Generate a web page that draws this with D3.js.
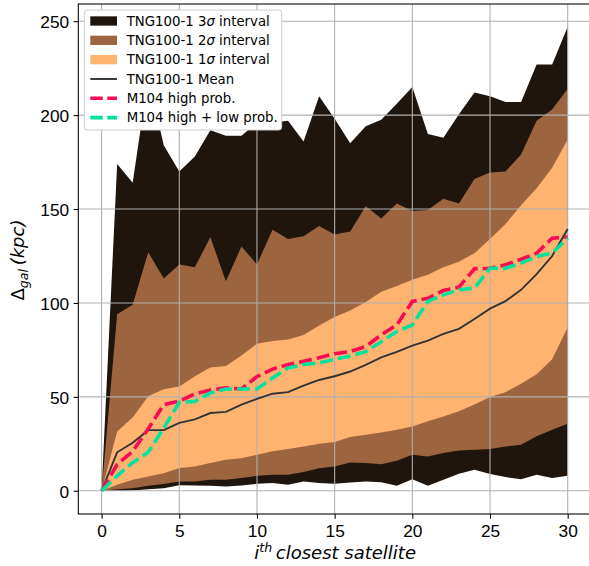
<!DOCTYPE html>
<html>
<head>
<meta charset="utf-8">
<script src="https://cdn.jsdelivr.net/npm/d3@7"></script>
<style>
    body { margin: 0; background: #fff; }
    #chart { width: 589px; height: 566px; overflow: hidden; }
    svg { font-family: "DejaVu Sans", sans-serif; }
    .grid line { stroke: #b0b0b0; stroke-width: 1.07; }
    .axis path { display: none; }
    .axis line { stroke: #000; stroke-width: 1.07; }
    .axis text { font-size: 17.3px; fill: #000; }
</style>
</head>
<body>
<div id="chart"></div>
<script>
// i-th closest satellite
const satellites = [0, 1, 2, 3, 4, 5, 6, 7, 8, 9, 10, 11, 12, 13, 14, 15, 16, 17, 18, 19, 20,
    21, 22, 23, 24, 25, 26, 27, 28, 29, 30];

// TNG100-1 intervals (kpc)
const upper3 = [0, 174, 164, 220, 184, 170, 178, 192, 189, 189, 196, 196, 197, 186, 210, 198, 185, 194,
    197.5, 206, 215, 190, 188, 200.5, 212, 210, 207, 207, 227, 227, 247];
const upper2 = [0, 94, 99, 127, 113, 120.5, 119, 135, 111.5, 130, 120.5, 139, 134, 135.5, 141, 136.5, 138,
    151.5, 145, 153, 149, 149.5, 155.5, 153, 166, 169.5, 170, 179, 197, 203, 214];
const upper1 = [0, 31.6, 39, 50.3, 54, 55.5, 61, 65.6, 66.5, 72, 78.3, 79.8, 80.5, 83, 88, 92.5, 96, 100.5,
    106, 109, 112.3, 115, 119, 122, 126.5, 134, 142, 152, 161, 172, 187];
const lower1 = [0, 3.2, 5.9, 7.6, 9.4, 12.1, 13, 14.8, 16.5, 17.4, 19.2, 21, 22.2, 23.6, 25.1, 26, 28.6, 29.9,
    31.1, 32.5, 34.3, 37, 39.6, 42.3, 45.9, 50, 52.5, 57, 62, 70, 87];
const lower2 = [0, 0.9, 1.4, 2.7, 3.6, 5, 5, 5.9, 5.9, 6.8, 8, 8.5, 8.5, 10, 12, 13, 15.1, 14.8, 14.2, 16,
    19.2, 18.3, 20.1, 21.5, 21.9, 22.2, 23.6, 24.5, 29, 32.5, 35.7];
const lower3 = [0, 0, 0.2, 0.9, 1.4, 3, 2.8, 2.7, 2.3, 2.8, 3.7, 4.1, 3.2, 5, 4.1, 3.7, 4.4, 5, 4.6, 2.7,
    6.2, 2.7, 5.9, 9.1, 11.2, 8.9, 7.3, 6.2, 8.5, 6.8, 8];
const meanLine = [0, 20.5, 25.6, 32.3, 32.3, 36.2, 38, 41.4, 42, 45.9, 48.9, 51.7, 52.5, 56, 59, 61, 63.5,
    67, 71, 74, 77.3, 80, 83.5, 86.2, 91.5, 97, 101, 107, 115.3, 125, 139.4];

// M104
const highProb = [0, 14, 21, 33, 45.9, 47.8, 51.6, 53.7, 54.8, 54.2, 60.8, 64.8, 67.2, 69, 70.8, 73, 74.1,
    76.8, 83, 88.3, 100.8, 102.5, 106.6, 108.4, 118.2, 118.5, 120.3, 123.3, 126.5, 134.5, 135.1];
const highLowProb = [0, 8, 15, 20.5, 33.4, 47.1, 47.6, 52.1, 54.2, 54.2, 54.2, 60, 65.4, 67.2, 68.1, 70,
    71.8, 74.1, 79.4, 84.8, 88.3, 100.8, 104.3, 107, 107.9, 118.5, 118.5, 121.2, 124.8, 126.5, 134.5];

const xTicks = [0, 5, 10, 15, 20, 25, 30];
const yTicks = [0, 50, 100, 150, 200, 250];

class SatelliteChart {
    constructor(parentElement) {
        this.parentElement = parentElement;
        this.initVis();
    }

    initVis() {
        let vis = this;

        vis.margin = {top: 4, right: 0, bottom: 52, left: 78.3};
        vis.width = 512.7;
        vis.height = 510;

        vis.svg = d3.select("#" + vis.parentElement).append("svg")
            .attr("width", 589)
            .attr("height", 566)
            .append("g")
            .attr("transform", "translate(" + vis.margin.left + "," + vis.margin.top + ")");

        vis.x = d3.scaleLinear().domain([-1.5, 31.5]).range([0, vis.width]);
        vis.y = d3.scaleLinear().domain([-12.34, 259.14]).range([vis.height, 0]);

        vis.svg.append("clipPath").attr("id", "plot-clip")
            .append("rect").attr("width", vis.width).attr("height", vis.height);

        vis.plot = vis.svg.append("g").attr("clip-path", "url(#plot-clip)");

        this.updateVis();
    }

    updateVis() {
        let vis = this;

        // sigma bands
        let bands = [
            {lo: lower3, hi: upper3, color: "#20150d"},
            {lo: lower2, hi: upper2, color: "#9d6440"},
            {lo: lower1, hi: upper1, color: "#ffb370"}
        ];
        bands.forEach(b => {
            let area = d3.area()
                .x((d, i) => vis.x(satellites[i]))
                .y0((d, i) => vis.y(b.lo[i]))
                .y1((d, i) => vis.y(b.hi[i]));
            vis.plot.append("path")
                .datum(b.hi)
                .attr("d", area)
                .attr("fill", b.color);
        });

        // grid over the bands
        let grid = vis.plot.append("g").attr("class", "grid");
        grid.selectAll(".vgrid").data(xTicks).enter().append("line")
            .attr("x1", d => vis.x(d)).attr("x2", d => vis.x(d))
            .attr("y1", 0).attr("y2", vis.height);
        grid.selectAll(".hgrid").data(yTicks).enter().append("line")
            .attr("y1", d => vis.y(d)).attr("y2", d => vis.y(d))
            .attr("x1", 0).attr("x2", vis.width);

        let line = d3.line()
            .x((d, i) => vis.x(satellites[i]))
            .y(d => vis.y(d));

        vis.plot.append("path").datum(meanLine)
            .attr("d", line).attr("fill", "none")
            .attr("stroke", "#333333").attr("stroke-width", 1.9);

        vis.plot.append("path").datum(highProb)
            .attr("d", line).attr("fill", "none")
            .attr("stroke", "#f80c52").attr("stroke-width", 3.6)
            .attr("stroke-dasharray", "13,5");

        vis.plot.append("path").datum(highLowProb)
            .attr("d", line).attr("fill", "none")
            .attr("stroke", "#00e29d").attr("stroke-width", 3.6)
            .attr("stroke-dasharray", "13,5");

        // axes
        vis.svg.append("g")
            .attr("class", "axis x-axis")
            .attr("transform", `translate(0,${vis.height})`)
            .call(d3.axisBottom(vis.x).tickValues(xTicks).tickSize(4.7));

        vis.svg.append("g")
            .attr("class", "axis y-axis")
            .call(d3.axisLeft(vis.y).tickValues(yTicks).tickSize(4.7).tickPadding(4.5));

        vis.svg.selectAll(".x-axis text").attr("dy", null).attr("y", 23);
        vis.svg.selectAll(".y-axis text").attr("dy", "0.36em");

        // spines
        vis.svg.append("rect")
            .attr("width", vis.width).attr("height", vis.height)
            .attr("fill", "none").attr("stroke", "#000").attr("stroke-width", 1.07);

        // axis labels
        let xl = vis.svg.append("text")
            .attr("x", vis.width / 2 + 0.5)
            .attr("y", 555)
            .attr("text-anchor", "middle")
            .attr("font-size", "18px")
            .attr("font-style", "italic");
        xl.append("tspan").text("i");
        xl.append("tspan").attr("font-size", "12.6px").attr("dy", -7).text("th");
        xl.append("tspan").attr("dy", 7).text("\u2009closest satellite");

        let yl = vis.svg.append("text")
            .attr("transform", `translate(${23.5 - vis.margin.left},${vis.height / 2 + 1}) rotate(-90)`)
            .attr("text-anchor", "middle")
            .attr("font-size", "18px");
        yl.append("tspan").text("\u0394");
        yl.append("tspan").attr("font-size", "12.6px").attr("font-style", "italic").attr("dy", 4).text("gal");
        yl.append("tspan").attr("font-style", "italic").attr("dy", -4).text("\u2009(kpc)");

        // legend (opaque, hides the x=3 peak as in the original)
        let legend = vis.svg.append("g")
            .attr("transform", `translate(${84.3 - vis.margin.left},${10 - vis.margin.top})`);
        legend.append("rect")
            .attr("width", 197.4).attr("height", 120).attr("rx", 3)
            .attr("fill", "#fff")
            .attr("stroke", "#cccccc").attr("stroke-width", 1);

        let entries = [
            {type: "patch", color: "#20150d", pre: "TNG100-1 3", sig: true},
            {type: "patch", color: "#9d6440", pre: "TNG100-1 2", sig: true},
            {type: "patch", color: "#ffb370", pre: "TNG100-1 1", sig: true},
            {type: "line", color: "#333333", pre: "TNG100-1 Mean"},
            {type: "dash", color: "#f80c52", pre: "M104 high prob."},
            {type: "dash", color: "#00e29d", pre: "M104 high + low prob."}
        ];

        entries.forEach((e, i) => {
            let cy = 11 + i * 19.33;
            if (e.type === "patch") {
                legend.append("rect")
                    .attr("x", 6).attr("y", cy - 4.65).attr("width", 26.7).attr("height", 9.3)
                    .attr("fill", e.color);
            } else {
                legend.append("line")
                    .attr("x1", 6).attr("x2", 32.7).attr("y1", cy).attr("y2", cy)
                    .attr("stroke", e.color)
                    .attr("stroke-width", e.type === "dash" ? 3.6 : 1.9)
                    .attr("stroke-dasharray", e.type === "dash" ? "12.5,4.5" : null);
            }
            let t = legend.append("text")
                .attr("x", 42.4).attr("y", cy + 4.8)
                .attr("font-size", "13.3px");
            t.append("tspan").text(e.pre);
            if (e.sig) {
                t.append("tspan").attr("font-style", "italic").text("\u03c3");
                t.append("tspan").text(" interval");
            }
        });
    }
}

new SatelliteChart("chart");
</script>
</body>
</html>
